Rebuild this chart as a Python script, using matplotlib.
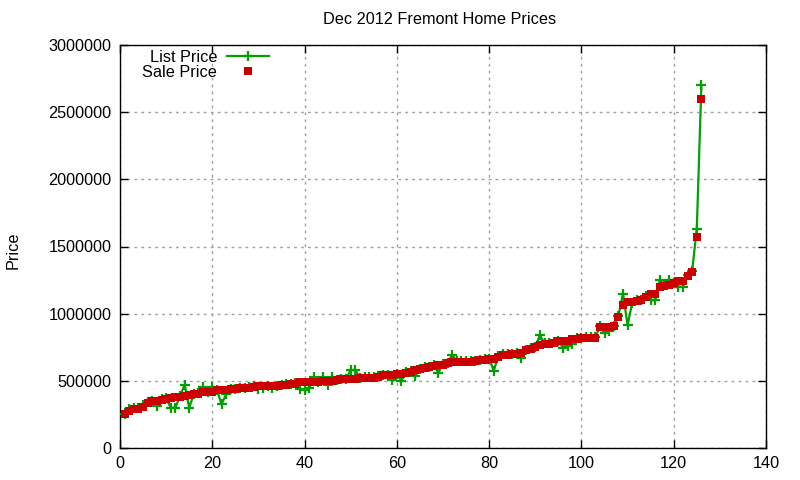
import matplotlib
matplotlib.use("Agg")
import matplotlib.pyplot as plt
from matplotlib.lines import Line2D

plt.rcParams['font.family'] = ['Liberation Sans', 'DejaVu Sans']

title = "Dec 2012 Fremont Home Prices"
ylabel = "Price"

index = list(range(1, 127))

sale_price = [
    250000, 275000, 288000, 290000, 305000, 335000, 348000, 352000, 360000, 366000,
    370000, 378000, 382000, 390000, 392000, 400000, 404000, 415000, 418000, 420000,
    432000, 434000, 435000, 436000, 438000, 446000, 448000, 450000, 456000, 458000,
    458000, 459000, 460000, 462000, 469000, 472000, 476000, 480000, 490000, 491000,
    492000, 495000, 495000, 496000, 497000, 500000, 505000, 514000, 515000, 515000,
    516000, 518000, 521000, 522000, 522000, 530000, 543000, 544000, 545000, 548000,
    551000, 562000, 566000, 580000, 588000, 595000, 603000, 612000, 618000, 621000,
    630000, 640000, 640000, 641000, 642000, 643000, 645000, 652000, 658000, 660000,
    662000, 680000, 695000, 696000, 698000, 700000, 705000, 726000, 740000, 752000,
    770000, 774000, 776000, 785000, 795000, 797000, 800000, 812000, 815000, 816000,
    820000, 820000, 822000, 900000, 900000, 900000, 905000, 975000, 1068000, 1085000,
    1090000, 1095000, 1100000, 1125000, 1145000, 1150000, 1200000, 1205000, 1217000, 1225000,
    1240000, 1245000, 1280000, 1310000, 1570000, 2600000,
]

list_price = [
    255000, 290000, 300000, 300000, 320000, 340000, 350000, 310000, 365000, 370000,
    300000, 300000, 385000, 470000, 300000, 400000, 410000, 455000, 420000, 455000,
    435000, 325000, 400000, 440000, 440000, 450000, 450000, 455000, 460000, 440000,
    445000, 460000, 445000, 465000, 470000, 475000, 480000, 485000, 440000, 435000,
    445000, 525000, 495000, 530000, 470000, 525000, 505000, 515000, 515000, 580000,
    580000, 520000, 525000, 525000, 525000, 535000, 545000, 545000, 505000, 550000,
    500000, 565000, 570000, 535000, 590000, 600000, 605000, 615000, 560000, 625000,
    630000, 695000, 645000, 645000, 645000, 645000, 650000, 655000, 660000, 665000,
    575000, 685000, 700000, 700000, 700000, 705000, 670000, 730000, 745000, 755000,
    840000, 780000, 780000, 790000, 800000, 745000, 760000, 775000, 820000, 820000,
    825000, 825000, 825000, 905000, 855000, 870000, 910000, 980000, 1150000, 915000,
    1080000, 1100000, 1100000, 1130000, 1100000, 1100000, 1250000, 1210000, 1250000, 1230000,
    1200000, 1200000, 1290000, 1320000, 1630000, 2700000,
]

green = '#00a000'
red = '#cc0000'
fs = 11.7

fig = plt.figure(figsize=(8, 4.8), dpi=100)
ax = fig.add_axes([120/800, 1 - 448/480, 646/800, 403/480])

ax.plot(index, list_price, color=green, lw=1.6, marker='+', markersize=6.5,
        markeredgewidth=1.6, zorder=3)
ax.plot(index, sale_price, linestyle='none', color=red, marker='s', markersize=6,
        markeredgewidth=0, zorder=4)

ax.set_xlim(0, 140)
ax.set_ylim(0, 3000000)
ax.set_xticks(range(0, 141, 20))
ax.set_yticks(range(0, 3000001, 500000))
ax.set_yticklabels([str(v) for v in range(0, 3000001, 500000)])

ax.grid(True, color='#a0a0a0', linestyle=(0, (2, 3)), linewidth=1)
ax.set_axisbelow(True)
ax.tick_params(direction='in', length=6, width=1, top=True, right=True,
               labelsize=fs, colors='black', pad=6)
for s in ax.spines.values():
    s.set_linewidth(1)
    s.set_color('black')

fig.text(440/800, 1 - 20/480, title, ha='center', va='center', fontsize=fs)
fig.text(13/800, 1 - 250/480, ylabel, ha='center', va='center', rotation=90, fontsize=fs)

h_list = Line2D([], [], color=green, lw=1.6, marker='+', markersize=6.5, markeredgewidth=1.6,
                markevery=[1])
h_sale = Line2D([], [], linestyle='none', color=red, marker='s', markersize=6,
                markeredgewidth=0)
leg = ax.legend([h_list, h_sale], ['List Price', 'Sale Price'], loc='upper left',
                bbox_to_anchor=(14/646, 1 + 3/403), frameon=False, markerfirst=False,
                handlelength=2.6, handletextpad=0.6, fontsize=fs, labelspacing=0.0,
                borderaxespad=0.3, borderpad=0.2)
for t in leg.get_texts():
    t.set_ha('right')

fig.savefig('out.png', dpi=100)
